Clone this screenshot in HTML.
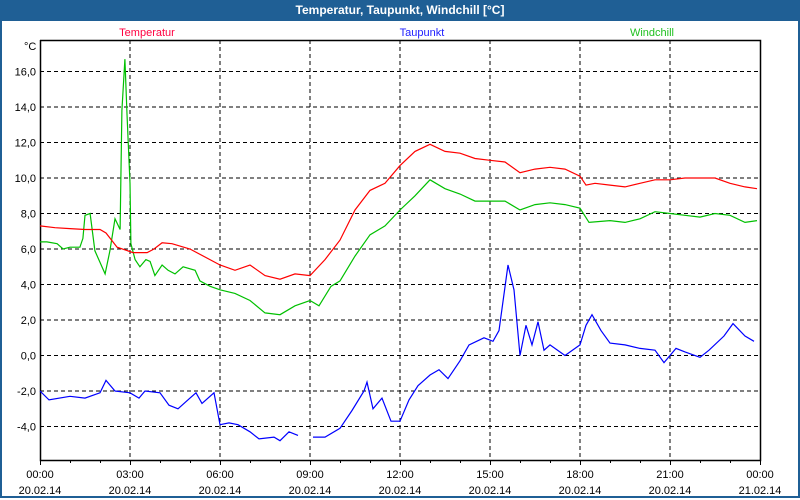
<!DOCTYPE html>
<html><head><meta charset="utf-8"><style>
body{margin:0;width:800px;height:500px;overflow:hidden;background:#fff;font-family:"Liberation Sans",sans-serif}
#win{position:absolute;left:0;top:0;width:796px;height:496px;border:2px solid #1f5f95;border-top:0;background:#fff}
#title{position:absolute;left:0;top:0;width:800px;height:21px;background:#1f5f95;color:#fff;font-weight:bold;font-size:12px;text-align:center;line-height:21px}
svg{position:absolute;left:0;top:0}
</style></head><body>
<div id="win"></div>
<div id="title">Temperatur, Taupunkt, Windchill [°C]</div>
<svg id="c" width="800" height="500"></svg>
<script>
const xTicks=["00:00","03:00","06:00","09:00","12:00","15:00","18:00","21:00","00:00"];
const xDates=["20.02.14","20.02.14","20.02.14","20.02.14","20.02.14","20.02.14","20.02.14","20.02.14","21.02.14"];
const yTicks=[-4,-2,0,2,4,6,8,10,12,14,16];
const tempT=[0,0.5,1,1.5,2,2.2,2.57,3.1,3.57,3.8,4.07,4.4,5,6,6.5,7,7.5,8,8.5,9,9.5,10,10.5,11,11.5,12,12.5,13,13.5,14,14.5,15,15.5,16,16.5,17,17.5,18,18.2,18.5,19,19.5,20,20.5,21,21.5,22,22.5,23,23.5,23.9];
const tempV=[7.3,7.2,7.15,7.1,7.1,6.9,6.1,5.8,5.8,6.0,6.35,6.3,6.0,5.1,4.8,5.1,4.5,4.3,4.6,4.5,5.4,6.5,8.2,9.3,9.7,10.7,11.5,11.9,11.5,11.4,11.1,11.0,10.9,10.3,10.5,10.6,10.5,10.1,9.6,9.7,9.6,9.5,9.7,9.9,9.9,10.0,10.0,10.0,9.7,9.5,9.4];
const windT=[0,0.23,0.57,0.77,1,1.33,1.43,1.5,1.67,1.83,2.17,2.33,2.5,2.67,2.73,2.83,2.9,3,3.03,3.17,3.33,3.53,3.67,3.83,4.07,4.27,4.5,4.77,5.17,5.33,5.67,6,6.5,7,7.5,8,8.5,9,9.3,9.7,10,10.5,11,11.5,12,12.5,13,13.5,14,14.5,15,15.5,16,16.5,17,17.5,18,18.3,19,19.5,20,20.5,21,21.5,22,22.5,23,23.5,23.9];
const windV=[6.4,6.4,6.3,6.0,6.1,6.1,6.6,7.9,8.0,5.9,4.6,5.9,7.7,7.1,13.8,16.7,13.6,9.7,6.3,5.4,5.0,5.4,5.3,4.5,5.1,4.8,4.6,5.0,4.8,4.2,3.9,3.7,3.5,3.1,2.4,2.3,2.8,3.1,2.8,3.9,4.2,5.6,6.8,7.3,8.2,9.0,9.9,9.4,9.1,8.7,8.7,8.7,8.2,8.5,8.6,8.5,8.3,7.5,7.6,7.5,7.7,8.1,8.0,7.9,7.8,8.0,7.9,7.5,7.6];
const dewT=[0,0.3,1,1.5,2,2.2,2.5,3,3.3,3.5,4,4.3,4.6,5,5.2,5.4,5.8,6,6.3,6.6,7,7.3,7.8,8,8.3,8.6,8.8,9.1,9.5,10,10.4,10.8,10.9,11.1,11.4,11.7,12,12.3,12.6,13,13.3,13.6,14,14.3,14.8,15.1,15.3,15.6,15.8,16,16.2,16.4,16.6,16.8,17,17.5,18,18.2,18.4,18.7,19,19.5,20,20.5,20.8,21.2,21.5,22,22.3,22.8,23.1,23.5,23.8];
const dewV=[-2.0,-2.5,-2.3,-2.4,-2.1,-1.4,-2.0,-2.1,-2.4,-2.0,-2.1,-2.8,-3.0,-2.4,-2.1,-2.7,-2.1,-3.9,-3.8,-3.9,-4.3,-4.7,-4.6,-4.8,-4.3,-4.5,null,-4.6,-4.6,-4.1,-3.1,-2.0,-1.5,-3.0,-2.4,-3.7,-3.7,-2.5,-1.7,-1.1,-0.8,-1.3,-0.3,0.6,1.0,0.8,1.4,5.1,3.7,0.0,1.7,0.6,1.9,0.3,0.6,0.0,0.6,1.7,2.3,1.4,0.7,0.6,0.4,0.3,-0.4,0.4,0.2,-0.1,0.3,1.1,1.8,1.1,0.8];
const NS="http://www.w3.org/2000/svg",svg=document.getElementById('c');
const L=40,R=760,T=40,B=460;
const X=h=>L+h*30, Y=v=>355.5-v*17.75;
function mk(t,a,p){const e=document.createElementNS(NS,t);for(const k in a)e.setAttribute(k,a[k]);(p||svg).appendChild(e);return e;}
// grid
yTicks.forEach(v=>{const g=mk('line',{x1:L,x2:R,y1:Y(v),y2:Y(v),stroke:'#000','stroke-dasharray':'4,3','stroke-width':1});


const t=mk('text',{x:L-4,y:Y(v)+4,'text-anchor':'end','font-size':11});t.textContent=v.toFixed(1).replace('.',',');

});
xTicks.forEach((s,i)=>{const x=X(i*3);
if(i>0&&i<8){const g=mk('line',{x1:x,x2:x,y1:T,y2:B,stroke:'#000','stroke-dasharray':'4,3'});

}
const t=mk('text',{x:x,y:478,'text-anchor':'middle','font-size':11});t.textContent=s;


const d=mk('text',{x:x,y:494,'text-anchor':'middle','font-size':11});d.textContent=xDates[i];

});
for(let h=0;h<=24;h++){const m=mk('line',{x1:X(h)+.5,x2:X(h)+.5,y1:B,y2:B+(h%3?3:5),stroke:'#000'});

}
const ax=mk('polyline',{points:`${L+.5},${T} ${L+.5},${B+.5} ${R+.5},${B+.5} ${R+.5},${T+.5} ${L},${T+.5}`,fill:'none',stroke:'#000','stroke-width':1.5});


const u=mk('text',{x:24,y:50,'font-size':11});u.textContent='°C';


function series(ts,vs,col,name){let d='',pen=false;ts.forEach((t,i)=>{if(vs[i]==null){pen=false;return;}d+=(pen?'L':'M')+X(t).toFixed(1)+','+Y(vs[i]).toFixed(1);pen=true;});
const p=mk('path',{d:d,fill:'none',stroke:col,'stroke-width':1.2});

}
series(dewT,dewV,'#0000ff','taupunkt-line');
series(windT,windV,'#00c000','windchill-line');
series(tempT,tempV,'#ff0000','temperatur-line');
[['Temperatur',147,'#ff0040','legend-temperatur'],['Taupunkt',422,'#2020ff','legend-taupunkt'],['Windchill',652,'#20c020','legend-windchill']].forEach(a=>{
const t=mk('text',{x:a[1],y:36,'text-anchor':'middle','font-size':11,fill:a[2]});t.textContent=a[0];

});
</script>
</body></html>
